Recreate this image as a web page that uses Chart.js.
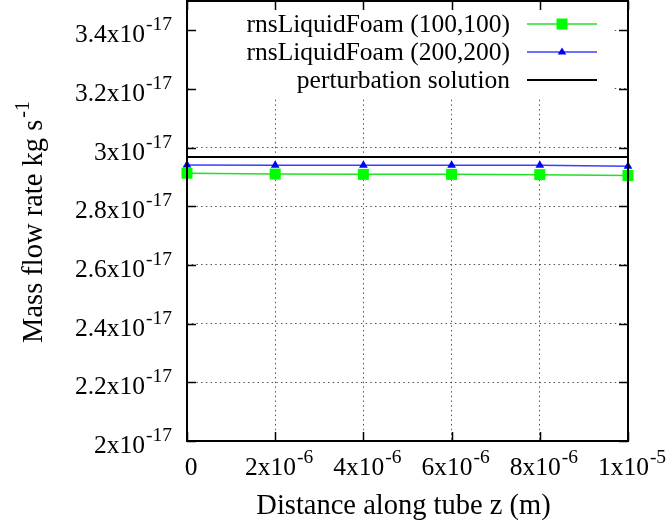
<!DOCTYPE html>
<html>
<head>
<meta charset="utf-8">
<script src="https://cdn.jsdelivr.net/npm/chart.js@4/dist/chart.umd.min.js"></script>
<style>
    body { margin: 0; background: #fff; }
    canvas { display: block; }
</style>
</head>
<body>
<canvas id="flowChart" width="667" height="528"></canvas>
<script>
// distance along tube, in units of 1e-6 m
const zPositions = [0, 2, 4, 6, 8, 10];

// mass flow rate, in units of 1e-17 kg/s
const foam100 = [2.913, 2.910, 2.909, 2.909, 2.908, 2.905];
const foam200 = [2.941, 2.940, 2.940, 2.940, 2.940, 2.937];
const perturbation = [2.968, 2.968, 2.968, 2.968, 2.968, 2.968];

const seriesNames = ['rnsLiquidFoam (100,100)', 'rnsLiquidFoam (200,200)', 'perturbation solution'];

// tick labels as gnuplot prints them: mantissa + power of ten
const xTickValues = [0, 2, 4, 6, 8, 10];
const xTickMantissa = ['0', '2', '4', '6', '8', '1'];
const xTickExponent = ['', '-6', '-6', '-6', '-6', '-5'];

const yTickValues = [2.0, 2.2, 2.4, 2.6, 2.8, 3.0, 3.2, 3.4];
const yTickMantissa = ['2', '2.2', '2.4', '2.6', '2.8', '3', '3.2', '3.4'];
const yTickExponent = '-17';

const FAMILY = '"Liberation Serif", "Times New Roman", serif';
const BASE_FONT = '25.5px ' + FAMILY;
const SUP_FONT = '19.5px ' + FAMILY;
const TITLE_FONT = '28.5px ' + FAMILY;
const TITLE_SUP = '20px ' + FAMILY;

const toPoints = (vals) => zPositions.map((z, i) => ({ x: z, y: vals[i] }));

// draws "mantissa x10^exp" with a raised exponent
const drawSci = (ctx, mant, exp, x, y, align, font, supFont, raise) => {
    const base = exp ? mant + 'x10' : mant;
    ctx.font = font;
    const w1 = ctx.measureText(base).width;
    ctx.font = supFont;
    const w2 = exp ? ctx.measureText(exp).width + 1 : 0;
    let left = x;
    if (align === 'right') left = x - w1 - w2;
    else if (align === 'center') left = x - (w1 + w2) / 2;
    ctx.textAlign = 'left';
    ctx.textBaseline = 'alphabetic';
    ctx.font = font;
    ctx.fillText(base, left, y);
    if (exp) {
        ctx.font = supFont;
        ctx.fillText(exp, left + w1 + 1, y - raise);
    }
};

const drawMarker = (ctx, style, color, x, y) => {
    ctx.fillStyle = color;
    if (style === 'rect') {
        ctx.fillRect(x - 5.5, y - 5.5, 11, 11);
    } else if (style === 'triangle') {
        ctx.beginPath();
        ctx.moveTo(x, y - 4.6);
        ctx.lineTo(x + 4.3, y + 2.5);
        ctx.lineTo(x - 4.3, y + 2.5);
        ctx.closePath();
        ctx.fill();
    }
};

// gnuplot style frame: opaque key, border, mirrored inward tics, labels
const gnuplotFrame = {
    id: 'gnuplotFrame',
    beforeDatasetsDraw(chart) {
        const { ctx, chartArea } = chart;
        ctx.save();
        // key box hides the grid under it
        ctx.fillStyle = '#fff';
        ctx.fillRect(chartArea.left + 2, chartArea.top + 1, 613 - chartArea.left - 2, 95);

        chart.data.datasets.forEach((ds, i) => {
            const rowY = 24 + i * 28;
            ctx.fillStyle = '#000';
            ctx.font = BASE_FONT;
            ctx.textAlign = 'right';
            ctx.textBaseline = 'alphabetic';
            ctx.fillText(ds.label, 510, rowY + 8);
            ctx.strokeStyle = ds.borderColor;
            ctx.lineWidth = ds.borderWidth;
            ctx.beginPath();
            ctx.moveTo(527, rowY);
            ctx.lineTo(597, rowY);
            ctx.stroke();
            if (ds.pointRadius > 0) drawMarker(ctx, ds.pointStyle, ds.pointBackgroundColor, 562, rowY);
        });
        ctx.restore();
    },
    afterDatasetsDraw(chart) {
        const { ctx, chartArea } = chart;
        const xs = chart.scales.x;
        const ys = chart.scales.y;
        const { left, right, top, bottom } = chartArea;
        ctx.save();

        // tics, inward, on all four sides
        ctx.strokeStyle = '#000';
        ctx.lineWidth = 1.5;
        ctx.beginPath();
        yTickValues.forEach(v => {
            const py = Math.round(ys.getPixelForValue(v)) + 0.5;
            ctx.moveTo(left, py); ctx.lineTo(left + 9, py);
            ctx.moveTo(right, py); ctx.lineTo(right - 9, py);
        });
        xTickValues.forEach(v => {
            const px = Math.round(xs.getPixelForValue(v)) + 0.5;
            ctx.moveTo(px, bottom); ctx.lineTo(px, bottom - 9);
            ctx.moveTo(px, top); ctx.lineTo(px, top + 9);
        });
        ctx.stroke();

        // border
        ctx.lineWidth = 2;
        ctx.strokeRect(left, top, right - left, bottom - top);

        // tick labels
        ctx.fillStyle = '#000';
        yTickValues.forEach((v, i) => {
            const py = ys.getPixelForValue(v);
            drawSci(ctx, yTickMantissa[i], yTickExponent, 172, py + 12, 'right', BASE_FONT, SUP_FONT, 12);
        });
        xTickValues.forEach((v, i) => {
            const px = xs.getPixelForValue(v);
            drawSci(ctx, xTickMantissa[i], xTickExponent[i], px + 4, 475, 'center', BASE_FONT, SUP_FONT, 12);
        });

        // axis titles
        drawSci(ctx, 'Distance along tube z (m)', '', (left + right) / 2 - 4, 514, 'center', TITLE_FONT, TITLE_SUP, 0);
        ctx.save();
        ctx.translate(42, (top + bottom) / 2 + 2);
        ctx.rotate(-Math.PI / 2);
        ctx.font = TITLE_FONT;
        const wMain = ctx.measureText('Mass flow rate kg s').width;
        ctx.font = TITLE_SUP;
        const wSup = ctx.measureText('-1').width;
        const start = -(wMain + wSup) / 2;
        ctx.textAlign = 'left';
        ctx.font = TITLE_FONT;
        ctx.fillText('Mass flow rate kg s', start, 0);
        ctx.font = TITLE_SUP;
        ctx.fillText('-1', start + wMain + 2, -13);
        ctx.restore();

        ctx.restore();
    }
};

const gridOpts = {
    color: '#555',
    lineWidth: 1,
    drawTicks: false,
};

new Chart(document.getElementById('flowChart'), {
    type: 'line',
    data: {
        datasets: [
            {
                label: seriesNames[0],
                data: toPoints(foam100),
                borderColor: '#22e022',
                borderWidth: 1.5,
                pointStyle: 'rect',
                pointRadius: 7.8,
                pointBackgroundColor: '#00ff00',
                pointBorderWidth: 0,
                clip: false,
            },
            {
                label: seriesNames[1],
                data: toPoints(foam200),
                borderColor: '#3c3cff',
                borderWidth: 1.5,
                pointStyle: 'triangle',
                pointRadius: 5,
                pointBackgroundColor: '#0000ff',
                pointBorderWidth: 0,
                clip: false,
            },
            {
                label: seriesNames[2],
                data: toPoints(perturbation),
                borderColor: '#000',
                borderWidth: 2,
                pointRadius: 0,
                clip: false,
            }
        ]
    },
    options: {
        responsive: false,
        animation: false,
        devicePixelRatio: 1,
        layout: { autoPadding: false, padding: { left: 187, right: 39, top: 1, bottom: 87 } },
        plugins: {
            legend: { display: false },
            tooltip: { enabled: false },
        },
        elements: { line: { tension: 0 } },
        scales: {
            x: {
                type: 'linear',
                min: 0,
                max: 10,
                ticks: { display: false, stepSize: 2 },
                grid: gridOpts,
                border: { display: false, dash: [1.5, 3.2] },
            },
            y: {
                type: 'linear',
                min: 2,
                max: 3.5,
                ticks: { display: false, stepSize: 0.2 },
                grid: gridOpts,
                border: { display: false, dash: [1.5, 3.2] },
            }
        }
    },
    plugins: [gnuplotFrame]
});
</script>
</body>
</html>
